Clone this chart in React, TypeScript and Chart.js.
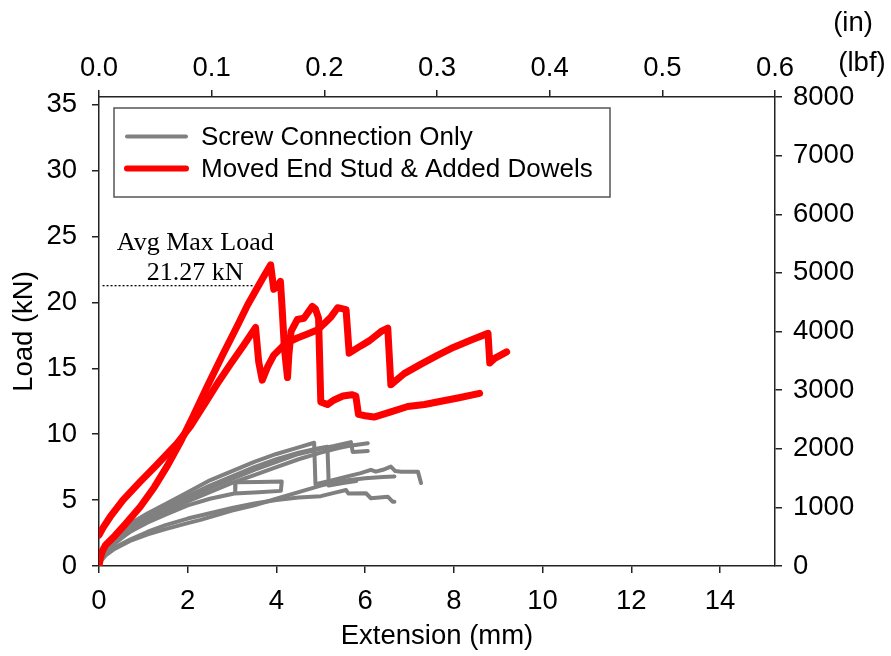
import { useEffect, useRef } from "react";
import { Chart, registerables } from "chart.js";

Chart.register(...registerables);

type Pt = [number, number];

// Axis ranges (the secondary axes are unit conversions of the primary ones)
const MM_PER_IN = 25.4;
const KN_PER_LBF = 0.00444822;
const xMaxIn = 0.6;
const yMaxLbf = 8000;
const xMaxMm = xMaxIn * MM_PER_IN;
const yMaxKn = yMaxLbf * KN_PER_LBF;

// Tick values
const extensionTicksMm = [0, 2, 4, 6, 8, 10, 12, 14];
const extensionTicksIn = [0, 0.1, 0.2, 0.3, 0.4, 0.5, 0.6];
const loadTicksKn = [0, 5, 10, 15, 20, 25, 30, 35];
const loadTicksLbf = [0, 1000, 2000, 3000, 4000, 5000, 6000, 7000, 8000];

// Legend labels
const seriesLabels = ["Screw Connection Only", "Moved End Stud & Added Dowels"];
const avgMaxLoadKn = 21.27;

// Moved end stud & added dowels: specimen A (extension mm, load kN)
const dowelA: Pt[] = [
  [0, 0], [0.03, 0.6], [0.07, 1.1], [0.15, 1.6], [0.36, 2.3], [0.6, 3.2],
  [0.93, 4.5], [1.25, 6.0], [1.54, 7.6], [1.85, 9.5], [2.1, 11.2],
  [2.45, 13.7], [2.8, 16.1], [3.1, 18.1], [3.35, 19.8], [3.55, 21.0],
  [3.72, 22.0], [3.87, 22.85], [3.94, 21.0], [4.02, 21.2], [4.09, 21.6],
  [4.13, 19.5], [4.18, 16.5], [4.25, 14.3], [4.28, 16.0], [4.33, 17.8],
  [4.47, 18.7], [4.62, 18.8], [4.81, 19.7], [4.88, 19.5], [4.95, 18.8],
  [5.0, 12.45], [5.15, 12.25], [5.3, 12.6], [5.5, 12.9], [5.7, 13.0],
  [5.79, 12.9], [5.85, 11.5], [6.0, 11.4], [6.2, 11.3], [6.58, 11.7],
  [6.96, 12.1], [7.34, 12.25], [7.71, 12.5], [8.09, 12.75], [8.58, 13.1],
];

// Moved end stud & added dowels: specimen B
const dowelB: Pt[] = [
  [0, 2.35], [0.1, 2.95], [0.25, 3.72], [0.54, 5.0], [0.93, 6.4],
  [1.31, 7.7], [1.76, 9.3], [2.06, 10.6], [2.4, 12.4], [2.7, 14.0],
  [2.96, 15.3], [3.25, 16.7], [3.53, 18.1], [3.6, 15.5], [3.68, 14.1],
  [3.8, 15.1], [3.94, 16.0], [4.21, 16.9], [4.47, 17.3], [4.7, 17.6],
  [4.92, 17.9], [5.08, 18.4], [5.23, 18.9], [5.38, 19.6], [5.57, 19.45],
  [5.64, 16.15], [5.9, 16.7], [6.1, 17.1], [6.36, 17.8], [6.51, 18.05],
  [6.58, 13.75], [6.88, 14.6], [7.25, 15.3], [7.64, 16.0], [8.0, 16.6],
  [8.39, 17.15], [8.77, 17.65], [8.81, 15.4], [8.92, 15.75], [9.19, 16.25],
];

// Screw connection only specimens
const screw1: Pt[] = [
  [0, 0], [0.05, 0.8], [0.15, 1.5], [0.35, 2.3], [0.7, 3.2], [1.1, 4.0],
  [1.5, 4.7], [2.0, 5.6], [2.5, 6.5], [3.0, 7.2], [3.5, 7.9], [4.0, 8.5],
  [4.5, 9.0], [4.85, 9.35], [4.88, 6.2], [5.2, 6.45], [5.6, 6.8],
  [5.9, 7.05], [6.13, 7.3], [6.24, 7.16], [6.4, 7.3], [6.58, 7.54],
  [6.68, 7.2], [6.81, 7.16], [7.19, 7.16], [7.26, 6.3],
];
const screw2: Pt[] = [
  [0, 0], [0.05, 0.7], [0.15, 1.3], [0.35, 2.1], [0.7, 3.0], [1.1, 3.8],
  [1.5, 4.5], [2.0, 5.3], [2.5, 6.1], [3.0, 6.8], [3.5, 7.5], [4.0, 8.1],
  [4.5, 8.6], [4.9, 8.9], [5.15, 9.05], [5.18, 6.1], [5.5, 6.3], [5.8, 6.45],
];
const screw3: Pt[] = [
  [0, 0], [0.05, 0.6], [0.15, 1.2], [0.35, 1.9], [0.7, 2.8], [1.1, 3.6],
  [1.5, 4.3], [2.0, 5.1], [2.5, 5.9], [3.0, 6.6], [3.5, 7.3], [4.0, 7.9],
  [4.5, 8.5], [5.0, 8.9], [5.3, 9.1], [5.68, 9.4], [5.72, 8.65], [6.06, 8.72],
];
const screw4: Pt[] = [
  [0, 0], [0.05, 0.5], [0.15, 1.0], [0.35, 1.7], [0.7, 2.6], [1.1, 3.4],
  [1.5, 4.1], [2.0, 4.9], [2.5, 5.6], [3.0, 6.3], [3.5, 6.9], [4.0, 7.5],
  [4.5, 8.1], [5.0, 8.6], [5.4, 8.95], [5.7, 9.15], [6.06, 9.32],
];
const screw5: Pt[] = [
  [0, 0], [0.05, 0.6], [0.15, 1.1], [0.35, 1.8], [0.7, 2.6], [1.1, 3.3],
  [1.5, 3.9], [2.0, 4.6], [2.5, 5.1], [3.05, 5.5], [3.6, 5.6], [4.1, 5.7],
  [4.12, 6.42], [3.6, 6.38], [3.08, 6.35], [3.07, 5.6],
];
const screw6: Pt[] = [
  [0, 0], [0.05, 0.5], [0.15, 0.9], [0.35, 1.4], [0.7, 2.0], [1.1, 2.6],
  [1.5, 3.1], [2.0, 3.6], [2.5, 4.0], [3.0, 4.4], [3.5, 4.75], [4.0, 5.0],
  [4.5, 5.2], [5.0, 5.3], [5.3, 5.55], [5.57, 5.77], [5.62, 5.5],
  [6.02, 5.52], [6.13, 5.14], [6.51, 5.26], [6.62, 4.88], [6.66, 4.88],
];
const screw7: Pt[] = [
  [0, 0], [0.05, 0.4], [0.15, 0.8], [0.35, 1.3], [0.7, 1.9], [1.1, 2.4],
  [1.5, 2.8], [2.0, 3.25], [2.29, 3.5], [3.0, 4.2], [3.5, 4.6], [4.0, 5.1],
  [4.5, 5.6], [5.0, 6.1], [5.23, 6.28], [5.6, 6.5], [6.0, 6.65],
  [6.4, 6.75], [6.66, 6.8],
];

const screwSeries = [screw1, screw2, screw3, screw4, screw5, screw6, screw7];
const dowelSeries = [dowelA, dowelB];

const GRAY = "#808080";
const RED = "#ff0000";
const AXIS = "#222222";
const SANS = '"Liberation Sans", Arial, sans-serif';
const SERIF = '"Liberation Serif", "Times New Roman", serif';
const FONT_SIZE = 27.5;

const toXY = (pts: Pt[]) => pts.map(([x, y]) => ({ x, y }));

const fixTicks = (values: number[]) => (scale: any) => {
  scale.ticks = values.map((value) => ({ value }));
};

const overlayPlugin = {
  id: "overlay",
  beforeDatasetsDraw(chart: any) {
    const { ctx, scales } = chart;
    const x = scales.x;
    const y = scales.y;
    const yy = y.getPixelForValue(avgMaxLoadKn);
    ctx.save();
    ctx.setLineDash([2, 2]);
    ctx.lineWidth = 1.3;
    ctx.strokeStyle = "#000";
    ctx.beginPath();
    ctx.moveTo(x.getPixelForValue(0.08), yy);
    ctx.lineTo(x.getPixelForValue(3.47), yy);
    ctx.stroke();
    ctx.setLineDash([]);
    ctx.fillStyle = "#000";
    ctx.font = `26px ${SERIF}`;
    ctx.textAlign = "center";
    ctx.textBaseline = "alphabetic";
    const cx = x.getPixelForValue(2.17);
    ctx.fillText("Avg Max Load", cx, y.getPixelForValue(23.98));
    ctx.fillText(`${avgMaxLoadKn.toFixed(2)} kN`, cx, y.getPixelForValue(21.7));
    ctx.restore();
  },
  afterDraw(chart: any) {
    const { ctx, chartArea } = chart;
    ctx.save();
    // legend box
    const lx = chartArea.left + 15;
    const ly = chartArea.top + 11;
    const lw = 496;
    const lh = 89;
    ctx.fillStyle = "#fff";
    ctx.fillRect(lx, ly, lw, lh);
    ctx.strokeStyle = "#555";
    ctx.lineWidth = 1.5;
    ctx.strokeRect(lx, ly, lw, lh);
    const rows = [
      { label: seriesLabels[0], color: GRAY, width: 4, dy: 28.5 },
      { label: seriesLabels[1], color: RED, width: 6, dy: 60.5 },
    ];
    ctx.lineCap = "round";
    ctx.font = `26px ${SANS}`;
    ctx.textAlign = "left";
    ctx.textBaseline = "middle";
    for (const r of rows) {
      ctx.strokeStyle = r.color;
      ctx.lineWidth = r.width;
      ctx.beginPath();
      ctx.moveTo(lx + 13, ly + r.dy);
      ctx.lineTo(lx + 72, ly + r.dy);
      ctx.stroke();
      ctx.fillStyle = "#000";
      ctx.fillText(r.label, lx + 87, ly + r.dy + 1);
    }
    // unit captions of the secondary axes
    ctx.font = `${FONT_SIZE}px ${SANS}`;
    ctx.textAlign = "center";
    ctx.fillText("(in)", 853, 23);
    ctx.fillText("(lbf)", 862, 63);
    ctx.restore();
  },
};

const axisCommon = {
  border: { display: true, color: AXIS, width: 1.5 },
  grid: {
    display: true,
    drawOnChartArea: false,
    drawTicks: true,
    tickLength: 7,
    color: AXIS,
    lineWidth: 1.5,
  },
};

export default function App() {
  const canvasRef = useRef<HTMLCanvasElement | null>(null);

  useEffect(() => {
    if (!canvasRef.current) return;
    Chart.defaults.font.family = SANS;
    Chart.defaults.color = "#000";

    const datasets: any[] = [
      ...dowelSeries.map((s) => ({
        data: toXY(s),
        borderColor: RED,
        borderWidth: 7,
        order: 0,
      })),
      ...screwSeries.map((s) => ({
        data: toXY(s),
        borderColor: GRAY,
        borderWidth: 4,
        order: 1,
      })),
    ].map((d) => ({
      ...d,
      showLine: true,
      pointRadius: 0,
      pointHoverRadius: 0,
      fill: false,
      tension: 0,
      borderCapStyle: "round",
      borderJoinStyle: "round",
      xAxisID: "x",
      yAxisID: "y",
    }));

    const chart = new Chart(canvasRef.current, {
      type: "scatter",
      data: { datasets },
      options: {
        animation: false,
        responsive: false,
        events: [],
        layout: { padding: 0 },
        plugins: {
          legend: { display: false },
          tooltip: { enabled: false },
          title: { display: false },
        },
        scales: {
          x: {
            type: "linear",
            position: "bottom",
            min: 0,
            max: xMaxMm,
            ...axisCommon,
            afterBuildTicks: fixTicks(extensionTicksMm),
            afterFit: (s: any) => {
              s.height = 90;
            },
            ticks: {
              font: { size: FONT_SIZE },
              padding: 12,
              maxRotation: 0,
              callback: (v: any) => String(v),
            },
            title: {
              display: true,
              text: "Extension (mm)",
              font: { size: FONT_SIZE },
              padding: { top: 0, bottom: 3 },
            },
          },
          x2: {
            type: "linear",
            position: "top",
            min: 0,
            max: xMaxIn,
            ...axisCommon,
            afterBuildTicks: fixTicks(extensionTicksIn),
            afterFit: (s: any) => {
              s.height = 97;
            },
            ticks: {
              font: { size: FONT_SIZE },
              padding: 5,
              maxRotation: 0,
              callback: (v: any) => Number(v).toFixed(1),
            },
          },
          y: {
            type: "linear",
            position: "left",
            min: 0,
            max: yMaxKn,
            ...axisCommon,
            afterBuildTicks: fixTicks(loadTicksKn),
            afterFit: (s: any) => {
              s.width = 99;
            },
            ticks: {
              font: { size: FONT_SIZE },
              padding: 15,
              callback: (v: any) => String(v),
            },
            title: {
              display: true,
              text: "Load (kN)",
              font: { size: FONT_SIZE },
              padding: { top: 8, bottom: 0 },
            },
          },
          y2: {
            type: "linear",
            position: "right",
            min: 0,
            max: yMaxLbf,
            ...axisCommon,
            afterBuildTicks: fixTicks(loadTicksLbf),
            afterFit: (s: any) => {
              s.width = 116;
            },
            ticks: {
              font: { size: FONT_SIZE },
              padding: 11,
              callback: (v: any) => String(v),
            },
          },
        },
      } as any,
      plugins: [overlayPlugin],
    });

    return () => chart.destroy();
  }, []);

  return (
    <div style={{ position: "fixed", left: 0, top: 0, width: 891, height: 656, background: "#fff" }}>
      <canvas ref={canvasRef} width={891} height={656} style={{ width: 891, height: 656, display: "block" }} />
    </div>
  );
}
